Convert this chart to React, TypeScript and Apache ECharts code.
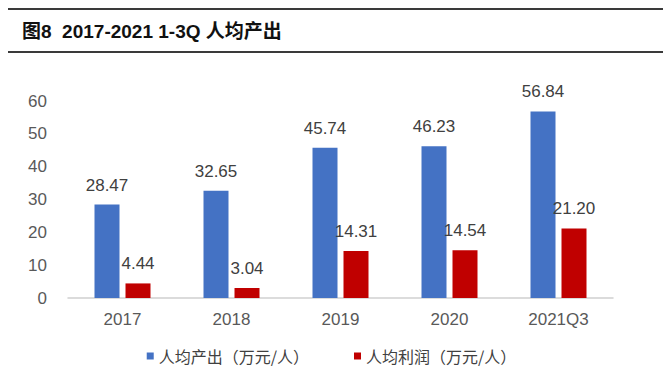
import React, { useEffect, useRef } from "react";
import * as echarts from "echarts";

const categories = ["2017", "2018", "2019", "2020", "2021Q3"];
const outputPerCapita = [28.47, 32.65, 45.74, 46.23, 56.84];
const profitPerCapita = [4.44, 3.04, 14.31, 14.54, 21.2];
const seriesNames = ["人均产出（万元/人）", "人均利润（万元/人）"];
const titleText = "图8  2017-2021 1-3Q 人均产出";

export default function App() {
  const ref = useRef<HTMLDivElement>(null);
  useEffect(() => {
    document.body.style.margin = "0";
    const chart = echarts.init(ref.current!, null, { renderer: "svg" });
    const numFont = "'Liberation Sans', Arial, sans-serif";
    const labelStyle = {
      show: true,
      position: "top" as const,
      distance: 11,
      color: "#404040",
      fontSize: 17,
      fontFamily: numFont,
      formatter: (p: any) => Number(p.value).toFixed(2),
    };
    chart.setOption({
      animation: false,
      backgroundColor: "#ffffff",
      graphic: [
        { type: "line", shape: { x1: 8, y1: 9, x2: 663, y2: 9 }, style: { stroke: "#3a3a3a", lineWidth: 2 } },
        { type: "line", shape: { x1: 8, y1: 52, x2: 663, y2: 52 }, style: { stroke: "#3a3a3a", lineWidth: 2 } },
        {
          type: "text",
          x: 22,
          y: 31,
          style: {
            text: titleText,
            fill: "#111",
            font: "bold 19px 'Liberation Sans', 'Noto Sans CJK SC', sans-serif",
            verticalAlign: "middle",
          },
        },
      ],
      grid: { left: 68, right: 50, top: 101, bottom: 78, containLabel: false },
      legend: {
        data: seriesNames,
        bottom: 7,
        left: "center",
        icon: "rect",
        itemWidth: 7,
        itemHeight: 7,
        itemGap: 45,
        textStyle: { fontSize: 16, color: "#404040", fontFamily: "'Noto Sans CJK SC', sans-serif" },
      },
      xAxis: {
        type: "category",
        data: categories,
        axisLine: { lineStyle: { color: "#d0d0d0", width: 1.5 } },
        axisTick: { show: false },
        axisLabel: { color: "#595959", fontSize: 17, margin: 13, fontFamily: numFont },
      },
      yAxis: {
        type: "value",
        min: 0,
        max: 60,
        interval: 10,
        splitLine: { show: false },
        axisLine: { show: false },
        axisTick: { show: false },
        axisLabel: { color: "#595959", fontSize: 17, margin: 21, fontFamily: numFont },
      },
      series: [
        {
          name: seriesNames[0],
          type: "bar",
          data: outputPerCapita,
          barWidth: 25,
          barGap: "24%",
          itemStyle: { color: "#4472C4" },
          label: labelStyle,
        },
        {
          name: seriesNames[1],
          type: "bar",
          data: profitPerCapita,
          barWidth: 25,
          itemStyle: { color: "#C00000" },
          label: labelStyle,
        },
      ],
    });
    return () => chart.dispose();
  }, []);
  return <div ref={ref} style={{ position: "fixed", left: 0, top: 0, width: 663, height: 376 }} />;
}
